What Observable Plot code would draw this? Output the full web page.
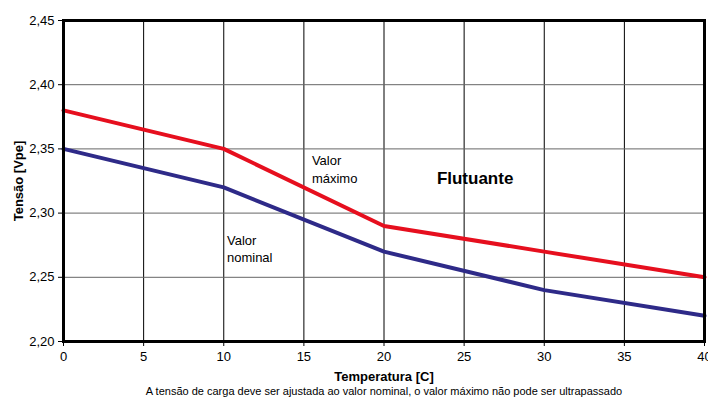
<!DOCTYPE html>
<html>
<head>
<meta charset="utf-8">
<script src="https://cdn.jsdelivr.net/npm/d3@7"></script>
<script src="https://cdn.jsdelivr.net/npm/@observablehq/plot@0.6"></script>
<style>
  html, body { margin: 0; padding: 0; background: #fff; }
  #chart svg { font-family: "Liberation Sans", Arial, sans-serif; }
  g[aria-label="y-axis label"] text, g[aria-label="x-axis label"] text { font-weight: bold; }
</style>
</head>
<body>
<div id="chart"></div>
<script>
const temperatures = [0, 10, 20, 30, 40];
const maxValues = [2.38, 2.35, 2.29, 2.27, 2.25];
const nominalValues = [2.35, 2.32, 2.27, 2.24, 2.22];
const xTicks = [0, 5, 10, 15, 20, 25, 30, 35, 40];
const yTicks = [2.20, 2.25, 2.30, 2.35, 2.40, 2.45];
const labels = [
  {x: 15.5, y: 2.335, text: "Valor\nmáximo"},
  {x: 10.2, y: 2.273, text: "Valor\nnominal"}
];
const title = "Flutuante";
const caption = "A tensão de carga deve ser ajustada ao valor nominal, o valor máximo não pode ser ultrapassado";

const maxData = temperatures.map((t, i) => ({t, v: maxValues[i]}));
const nomData = temperatures.map((t, i) => ({t, v: nominalValues[i]}));
const fmt = d => d.toFixed(2).replace(".", ",");

const chart = Plot.plot({
  width: 708,
  height: 400,
  marginLeft: 63,
  marginRight: 4,
  marginTop: 20,
  marginBottom: 59,
  style: {fontSize: "13px", fontFamily: "Liberation Sans, Arial, sans-serif", color: "#000"},
  x: {domain: [0, 40]},
  y: {domain: [2.20, 2.45]},
  marks: [
    Plot.ruleX(xTicks.slice(1, -1), {stroke: "#000", strokeWidth: 1}),
    Plot.ruleY(yTicks.slice(1, -1), {stroke: "#666", strokeWidth: 1}),
    Plot.axisX({ticks: xTicks, tickSize: 5, tickPadding: 5, fontSize: 13,
      label: "Temperatura [C]", labelAnchor: "center", labelOffset: 39, labelArrow: "none"}),
    Plot.axisY({ticks: yTicks, tickSize: 5, tickPadding: 4, tickFormat: fmt, fontSize: 13,
      label: "Tensão [Vpe]", labelAnchor: "center", labelOffset: 50, labelArrow: "none"}),
    Plot.line(nomData, {x: "t", y: "v", stroke: "#2e2a88", strokeWidth: 4}),
    Plot.line(maxData, {x: "t", y: "v", stroke: "#e60f1e", strokeWidth: 4}),
    Plot.frame({stroke: "#000", strokeWidth: 3}),
    Plot.text(labels, {x: "x", y: "y", text: "text", textAnchor: "start", fontSize: 13, lineHeight: 1.38, fill: "#000"}),
    Plot.text([title], {x: 23.3, y: 2.327, textAnchor: "start", fontSize: 17, fontWeight: "bold", fill: "#000"}),
    Plot.text([caption], {frameAnchor: "bottom", dy: 53, fontSize: 11, fill: "#000"})
  ]
});
document.getElementById("chart").append(chart);
</script>
</body>
</html>
